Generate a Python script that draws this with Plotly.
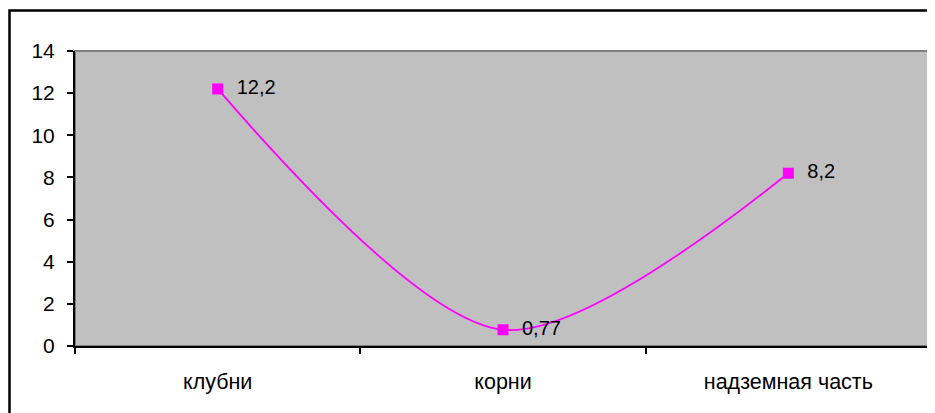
import plotly.graph_objects as go

categories = ["клубни", "корни", "надземная часть"]
values = [12.2, 0.77, 8.2]
value_labels = ["12,2", "0,77", "8,2"]
y_ticks = [0, 2, 4, 6, 8, 10, 12, 14]

# page body has an 8px margin, so the figure is sized to fill the rest of the window
OFF = 8
W, H = 935 - OFF, 413 - OFF
L, R, T, B = 75 - OFF, 4, 51 - OFF, 413 - 346
pw, ph = W - L - R, H - T - B

def px_to_paper_x(px):
    return (px - OFF - L) / pw

def px_to_paper_y(py):
    return (H - B - (py - OFF)) / ph

FONT = "Liberation Sans, Arial, sans-serif"

fig = go.Figure()
fig.add_trace(go.Scatter(
    x=categories, y=values,
    mode="lines+markers+text",
    line=dict(color="#FF00FF", width=1.8, shape="spline", smoothing=0.85),
    marker=dict(symbol="square", size=11, color="#FF00FF"),
    text=["  " + t for t in value_labels],
    textposition="middle right",
    textfont=dict(family=FONT, size=20, color="black"),
    cliponaxis=False,
    hoverinfo="skip",
))

fig.update_layout(
    width=W, height=H,
    margin=dict(l=L, r=R, t=T, b=B, pad=0),
    paper_bgcolor="white",
    plot_bgcolor="#C0C0C0",
    showlegend=False,
    font=dict(family=FONT, size=20, color="black"),
    shapes=[
        dict(type="rect", xref="x domain", yref="y domain", x0=0, x1=1, y0=0, y1=1,
             line=dict(color="#808080", width=2), fillcolor="rgba(0,0,0,0)", layer="below"),
        dict(type="rect", xref="paper", yref="paper",
             x0=px_to_paper_x(9.5), x1=px_to_paper_x(960),
             y0=px_to_paper_y(440), y1=px_to_paper_y(10.5),
             line=dict(color="black", width=2.5), fillcolor="rgba(0,0,0,0)"),
    ],
)

fig.update_xaxes(
    type="category", range=[-0.5, 2.5],
    showgrid=False, zeroline=False,
    showline=True, linecolor="black", linewidth=2,
    ticks="outside", tickson="boundaries", ticklen=6, tickcolor="black", tickwidth=2,
    ticklabelstandoff=15,
    tickfont=dict(size=21.5),
)
fig.update_yaxes(
    range=[0, 14], tickvals=y_ticks, ticktext=[str(v) for v in y_ticks],
    showgrid=False, zeroline=False,
    showline=True, linecolor="black", linewidth=2,
    ticks="outside", ticklen=6, tickcolor="black", tickwidth=2,
    ticklabelstandoff=8,
    tickfont=dict(size=21),
)

fig.write_html("out.html")
